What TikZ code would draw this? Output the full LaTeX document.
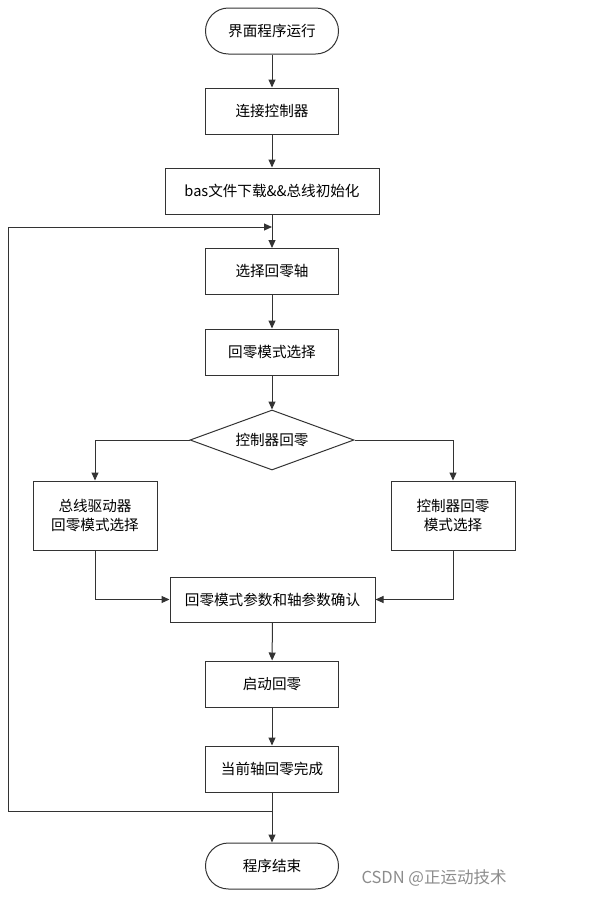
\documentclass[tikz,border=0pt]{standalone}
\usepackage{fontspec}
\setmainfont{Noto Sans CJK SC}
\usetikzlibrary{arrows.meta,shapes.geometric}
\begin{document}
\begin{tikzpicture}[x=1pt,y=-1pt,
  every node/.style={font=\fontsize{14.6pt}{19.5pt}\selectfont, text=black},
  ln/.style={draw=black!80, line width=1pt},
  arr/.style={ln, -{Triangle[length=8pt,width=7pt]}},
  proc/.style={ln, rectangle, minimum width=133pt, minimum height=46pt, inner sep=0pt, align=center},
  term/.style={proc, rounded corners=22.9pt},
  dec/.style={ln, diamond, aspect=2.73, minimum width=164pt, minimum height=60pt, inner sep=0pt}]
\useasboundingbox (0,0) rectangle (601,897);
\node[term] (start) at (272,31) {界面程序运行};
\node[proc] (conn) at (272,111) {连接控制器};
\node[proc, minimum width=214pt] (bas) at (272,191) {bas文件下载\&\&总线初始化};
\node[proc] (axis) at (272,271.5) {选择回零轴};
\node[proc] (mode) at (272,352) {回零模式选择};
\node[dec] (dec) at (272,440) {控制器回零};
\node[proc, minimum width=124pt, minimum height=69pt] (left) at (95,515.5) {总线驱动器\\回零模式选择};
\node[proc, minimum width=124pt, minimum height=69pt] (right) at (453,515.5) {控制器回零\\模式选择};
\node[proc, minimum width=205pt, minimum height=45pt] (conf) at (272.5,599.5) {回零模式参数和轴参数确认};
\node[proc] (go) at (272,684) {启动回零};
\node[proc] (done) at (272,769) {当前轴回零完成};
\node[term] (end) at (272,866) {程序结束};
\coordinate (loopin) at (272,227);
\coordinate (loopout) at (272,811);
\coordinate (lx1) at (8,811);
\coordinate (lx2) at (8,227);
\node[font=\fontsize{16.5pt}{18pt}\selectfont, text=black!45, anchor=center] (wm) at (434,878) {CSDN @正运动技术};
\draw[arr] (start) -- (conn);
\draw[arr] (conn) -- (bas);
\draw[arr] (bas) -- (axis);
\draw[arr] (axis) -- (mode);
\draw[arr] (mode) -- (dec);
\draw[arr] (dec.west) -| (left.north);
\draw[arr] (dec.east) -| (right.north);
\draw[arr] (left.south) |- (conf.west);
\draw[arr] (right.south) |- (conf.east);
\draw[arr] (conf) -- (go);
\draw[arr] (go) -- (done);
\draw[arr] (done) -- (end);
\draw[arr] (loopout) -- (lx1) -- (lx2) -- (loopin);
\end{tikzpicture}
\end{document}
